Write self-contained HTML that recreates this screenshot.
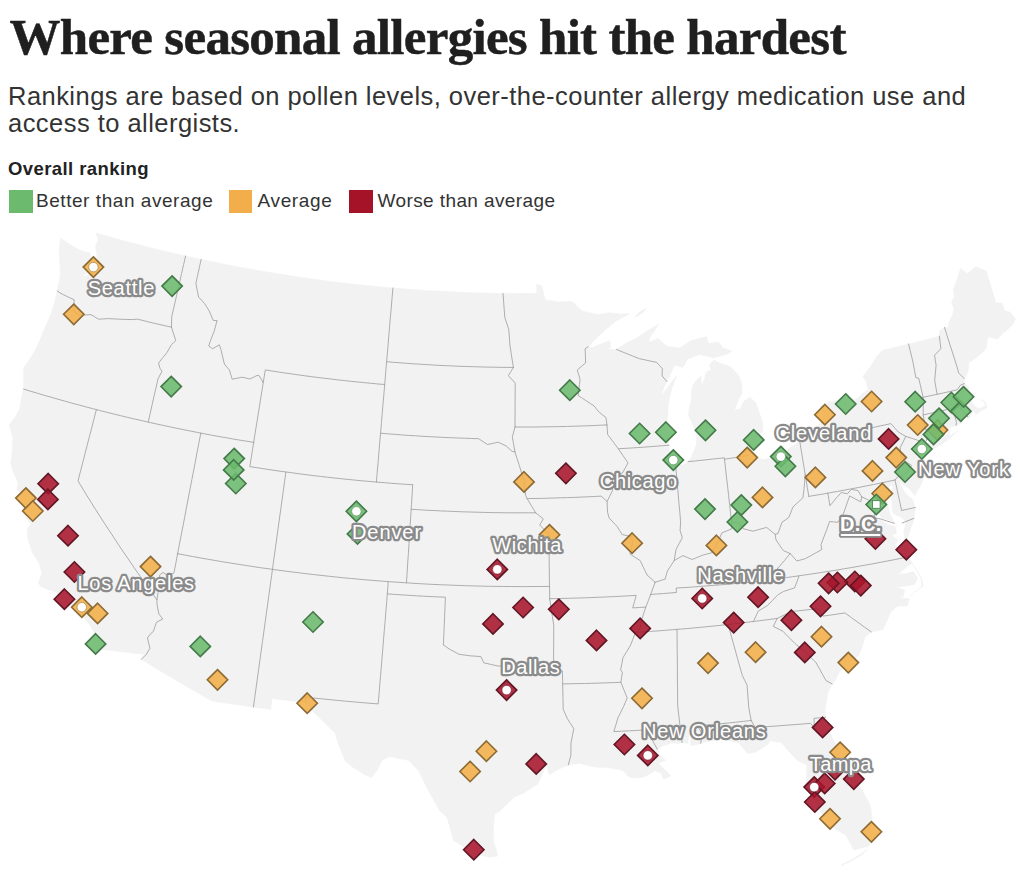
<!DOCTYPE html>
<html><head><meta charset="utf-8">
<style>
html,body{margin:0;padding:0;background:#fff;}
body{width:1024px;height:876px;position:relative;overflow:hidden;font-family:"Liberation Sans",sans-serif;}
#title{position:absolute;left:9.5px;top:9.5px;-webkit-text-stroke:0.5px #1f1f1f;margin:0;font-family:"Liberation Serif",serif;font-weight:bold;font-size:51px;line-height:54px;color:#1f1f1f;white-space:nowrap;letter-spacing:-0.71px;}
#sub{position:absolute;left:8px;top:83px;margin:0;font-size:25.5px;line-height:27.3px;letter-spacing:0.46px;color:#333;white-space:nowrap;}
#lt{position:absolute;left:8px;top:159px;letter-spacing:0.42px;font-size:18.5px;font-weight:bold;color:#222;white-space:nowrap;line-height:20px;}
.sw{position:absolute;top:189.5px;width:23.5px;height:23px;}
.ll{position:absolute;top:189px;height:23px;line-height:23px;font-size:19px;letter-spacing:0.55px;color:#333;white-space:nowrap;}
#map{position:absolute;left:0;top:0;width:1024px;height:876px;}
</style></head><body>
<h1 id="title">Where seasonal allergies hit the hardest</h1>
<p id="sub"><span id="s1">Rankings are based on pollen levels, over-the-counter allergy medication use and</span><br><span id="s2">access to allergists.</span></p>
<div id="lt">Overall ranking</div>
<div class="sw" style="left:9px;background:#6cba6d"></div><div class="ll" id="l1" style="left:36px">Better than average</div>
<div class="sw" style="left:228.5px;background:#f1ae4b"></div><div class="ll" id="l2" style="left:257.5px;letter-spacing:0.65px">Average</div>
<div class="sw" style="left:349px;background:#a51328"></div><div class="ll" id="l3" style="left:377.5px;letter-spacing:0.4px">Worse than average</div>
<svg id="map" width="1024" height="876" viewBox="0 0 1024 876">
<path d="M60.9,238.1L64.6,240.8L68.3,243.6L72.6,246.2L77.0,248.8L80.8,250.3L84.6,251.8L89.8,252.8L91.0,259.2L90.6,266.6L87.0,273.1L80.9,276.4L87.1,275.7L91.7,271.9L94.0,263.8L97.2,258.4L96.5,251.9L95.5,246.6L98.2,239.9L95.9,233.0L102.0,234.7L108.1,236.5L114.3,238.2L120.4,239.9L126.6,241.5L132.7,243.1L138.9,244.8L145.1,246.3L151.3,247.9L157.5,249.4L163.7,250.9L169.9,252.4L176.1,253.9L182.3,255.3L188.5,256.7L194.8,258.1L201.0,259.4L207.2,260.7L213.5,262.0L219.7,263.3L226.0,264.5L232.2,265.8L238.5,267.0L244.8,268.1L251.1,269.3L257.3,270.4L263.6,271.5L269.9,272.5L276.2,273.6L282.5,274.6L288.8,275.6L295.1,276.5L301.4,277.4L307.7,278.4L314.1,279.2L320.4,280.1L326.7,280.9L333.0,281.7L339.4,282.5L345.7,283.2L352.0,284.0L358.4,284.7L364.7,285.3L371.1,286.0L377.4,286.6L383.8,287.2L390.1,287.7L396.5,288.3L402.8,288.8L409.2,289.3L415.6,289.7L421.9,290.2L428.3,290.6L434.6,291.0L441.0,291.3L447.4,291.6L453.8,291.9L460.1,292.2L466.5,292.5L472.9,292.7L479.3,292.9L485.6,293.0L492.0,293.2L498.4,293.3L504.8,293.4L511.1,293.4L517.5,293.5L523.9,293.5L530.3,293.5L536.7,293.4L536.6,284.3L541.9,285.7L543.4,292.6L545.0,299.6L549.3,300.4L553.7,301.2L558.0,302.0L563.2,301.7L568.3,301.5L572.5,301.8L577.4,306.5L582.3,311.1L587.6,312.3L592.8,313.4L598.0,314.6L603.5,313.7L609.0,312.8L615.3,313.4L621.7,314.0L625.7,313.8L629.7,313.7L628.0,314.8L622.1,317.8L616.2,320.8L611.0,325.1L605.7,329.4L600.4,334.4L595.1,339.4L591.6,342.9L588.2,346.5L591.6,347.6L597.4,345.4L603.1,343.1L606.4,341.9L609.7,340.6L610.9,347.1L608.0,349.2L612.2,349.3L616.5,349.4L621.5,346.1L626.5,342.8L631.4,340.5L636.3,338.2L641.0,334.9L645.8,331.7L650.1,329.3L654.3,326.9L658.5,324.5L655.6,328.9L652.6,333.4L649.6,337.9L648.8,342.4L653.4,340.4L658.1,338.4L662.6,342.5L667.2,346.6L673.6,347.3L680.0,347.9L685.3,344.3L690.5,340.7L695.9,339.4L701.3,338.0L706.6,336.7L708.3,343.6L713.2,342.8L718.2,341.9L723.2,348.1L727.7,349.7L732.1,351.2L727.4,354.0L722.9,355.3L718.4,356.6L713.9,357.9L709.3,356.7L704.7,355.5L700.1,354.3L694.0,356.6L687.9,358.8L685.3,363.1L682.8,367.4L678.7,366.2L674.7,365.0L672.6,369.5L670.5,373.9L666.9,381.6L664.7,385.4L662.9,390.5L661.2,395.5L665.9,390.2L668.6,386.3L671.3,382.4L674.0,379.1L676.7,375.8L674.3,382.1L671.8,388.5L669.7,397.3L668.2,406.0L667.7,414.6L666.9,423.4L666.1,432.2L667.4,437.7L668.8,443.2L669.6,452.5L673.5,460.0L679.3,465.9L683.0,464.4L686.8,462.8L691.3,457.4L693.3,452.3L696.4,445.1L696.7,435.9L694.9,430.4L693.1,425.0L690.8,420.0L688.5,415.1L689.4,407.6L691.5,398.8L691.5,390.7L693.6,383.9L697.2,379.8L700.8,375.8L701.2,380.9L701.6,386.0L704.6,379.0L706.3,372.2L711.3,369.7L709.1,365.0L714.0,360.1L718.7,362.7L724.6,364.8L730.4,366.8L734.3,370.8L738.2,374.7L741.6,383.1L741.8,388.0L742.0,392.9L738.5,399.5L736.5,404.7L734.5,409.9L739.8,409.2L741.9,405.2L744.0,401.2L749.7,397.5L755.6,402.1L757.8,408.6L760.1,415.0L762.5,422.1L762.5,427.0L762.5,432.0L756.8,436.5L753.1,442.0L752.5,448.2L748.6,455.7L752.8,456.6L757.0,457.5L762.8,459.7L769.0,458.3L775.2,456.9L780.6,456.6L784.2,452.9L787.7,449.3L791.5,446.8L795.2,444.4L801.1,440.3L806.9,436.2L812.1,432.4L815.3,429.2L818.4,426.0L821.5,420.5L824.6,415.0L821.4,410.6L820.3,406.3L824.8,404.1L829.3,401.9L833.7,401.1L838.0,400.3L841.7,400.9L845.4,401.6L850.6,400.4L855.8,399.3L859.6,396.1L863.4,392.9L868.2,389.7L866.5,381.8L862.7,376.6L866.6,371.7L870.4,366.7L873.7,361.4L876.9,356.1L879.8,353.2L882.7,350.3L885.7,349.6L891.4,348.2L897.1,346.8L902.8,345.4L908.6,344.0L914.7,342.5L920.9,340.9L927.1,339.4L933.2,337.8L939.4,336.2L939.7,330.8L944.5,327.5L948.6,327.6L948.5,323.9L950.7,318.9L952.8,313.9L954.0,308.5L951.6,302.9L954.2,296.6L953.3,289.8L955.8,282.7L958.2,275.6L960.6,268.6L964.4,271.5L967.6,273.6L971.5,270.2L975.4,266.7L980.7,268.8L986.1,270.8L988.8,279.6L991.5,288.5L994.2,297.3L995.6,302.7L1002.4,303.2L1004.3,310.7L1010.2,312.2L1015.6,318.9L1013.0,324.1L1010.3,326.9L1007.5,329.6L1004.6,332.1L1001.7,334.5L997.6,339.0L992.8,337.9L987.9,336.8L986.7,344.8L986.0,348.8L983.2,351.5L980.3,354.3L975.9,358.1L972.5,360.3L969.0,362.5L968.4,370.3L966.3,376.0L964.3,378.6L964.4,383.6L969.5,387.8L965.4,392.7L964.2,397.4L970.4,399.0L973.2,404.6L976.9,407.9L980.8,408.3L985.6,405.5L983.3,400.5L980.2,399.6L985.1,401.8L987.2,407.8L981.4,410.5L976.0,414.7L973.5,410.3L970.0,416.9L967.9,417.4L962.5,413.3L962.5,420.2L962.5,422.4L956.1,425.4L952.0,426.7L947.4,428.3L942.8,429.9L938.2,431.4L933.5,435.1L930.0,437.9L926.4,440.6L925.0,444.8L929.5,441.9L933.2,440.5L936.9,439.1L941.0,437.8L945.1,436.5L947.8,433.6L950.5,430.6L948.8,436.4L953.2,433.7L957.6,431.1L952.7,435.5L947.8,439.9L943.8,442.7L939.8,445.4L934.8,447.9L929.7,450.4L926.2,451.4L922.6,452.4L921.1,449.9L919.4,454.9L923.2,454.8L924.4,463.8L925.4,472.4L923.6,477.7L921.8,483.1L918.4,489.3L914.9,495.5L911.4,491.6L908.0,487.7L904.0,484.8L900.0,481.9L900.8,485.5L905.4,493.3L909.0,496.6L912.6,499.8L915.3,507.5L914.6,513.3L914.0,519.1L911.9,525.3L909.8,531.4L907.7,537.2L905.5,543.1L904.7,537.3L904.0,531.4L904.9,526.8L905.9,522.2L900.9,517.0L896.9,515.3L893.0,513.6L892.4,508.7L891.9,503.8L891.3,498.9L890.8,494.0L893.0,487.2L890.5,484.5L888.4,489.1L886.3,493.7L884.1,494.1L886.8,500.6L888.0,506.2L889.2,511.9L891.4,516.7L893.7,521.5L887.9,519.7L881.8,518.4L877.6,511.8L875.9,517.6L882.4,521.3L889.0,525.0L895.6,526.9L896.5,533.0L892.1,535.2L898.0,540.2L895.0,544.6L899.5,547.4L899.8,548.6L905.5,547.9L908.1,556.9L911.9,563.6L908.3,565.6L905.0,568.6L901.6,571.6L897.1,573.8L901.1,573.8L905.1,573.9L909.3,572.7L913.6,571.5L917.7,578.7L914.4,584.4L909.5,585.2L904.6,586.0L900.7,586.4L896.8,586.9L900.6,588.6L904.5,590.3L903.3,596.3L896.8,596.9L901.0,597.7L905.2,598.4L909.3,598.6L907.2,606.0L902.4,606.0L897.6,606.0L894.2,608.9L890.7,611.9L888.2,617.8L885.6,623.7L883.0,629.6L877.1,630.8L871.2,631.9L865.3,636.7L863.2,643.3L861.1,649.9L859.0,655.3L854.0,659.2L849.0,663.2L844.1,667.8L839.2,672.3L835.3,680.4L832.1,683.9L830.0,688.3L827.9,692.7L827.1,697.8L826.4,702.8L825.1,708.0L825.5,717.3L826.8,722.3L828.1,727.3L829.8,731.9L831.6,736.6L836.1,744.5L840.6,752.4L844.7,757.9L848.8,763.4L853.0,768.9L853.3,777.5L856.8,782.4L860.4,787.4L863.5,793.0L866.7,798.6L869.2,803.1L871.0,808.9L871.6,816.3L872.1,823.7L872.6,831.1L871.5,836.0L870.4,840.8L869.0,845.9L861.4,848.0L853.8,850.1L849.8,842.5L845.8,835.0L840.3,831.8L834.8,828.6L831.0,825.3L827.2,821.9L822.8,815.2L820.1,811.4L817.3,807.5L813.9,802.4L809.2,796.4L813.3,794.6L814.4,787.1L809.2,789.1L806.2,787.8L806.3,782.5L806.5,777.2L806.7,771.0L806.9,764.9L802.3,762.7L797.7,760.5L793.3,756.0L788.9,751.4L785.1,747.0L781.4,742.6L776.0,741.7L770.5,740.7L767.8,744.3L761.4,748.4L754.9,752.4L747.6,753.5L743.3,748.4L739.1,743.2L733.3,741.8L727.5,740.3L721.7,738.9L714.5,740.2L707.2,741.5L700.7,743.3L697.0,744.6L690.7,745.4L690.8,740.3L690.9,735.1L689.2,734.5L687.8,743.4L682.1,742.5L679.0,743.4L671.6,743.0L667.0,744.5L662.3,745.9L657.3,749.4L659.6,752.2L655.4,752.5L662.0,756.9L665.5,760.3L658.2,763.3L661.7,766.7L665.1,770.1L670.8,775.8L663.6,779.2L661.0,772.8L654.5,770.8L650.4,773.5L644.2,776.8L637.9,777.9L633.6,777.6L629.3,777.2L625.9,773.7L622.6,770.2L617.2,769.3L611.9,768.3L607.6,767.3L601.2,767.5L595.9,766.9L590.6,766.2L585.3,764.8L579.9,763.4L574.1,764.1L568.3,764.9L562.6,767.4L556.8,770.0L553.1,772.5L549.5,775.0L547.8,770.1L546.2,765.3L543.1,772.6L540.5,778.3L537.8,784.1L530.4,788.7L522.9,793.4L518.6,795.2L514.3,797.0L509.6,801.6L504.9,806.1L500.2,810.7L494.8,813.8L494.1,819.8L493.5,825.9L493.4,833.1L493.3,840.4L495.2,846.8L497.1,853.2L497.5,856.1L489.8,857.2L482.1,855.3L474.4,853.3L467.8,849.3L461.4,845.3L453.8,840.7L451.5,832.9L449.2,825.2L447.0,817.4L443.3,814.0L439.7,810.6L435.3,802.9L431.0,795.2L426.7,787.4L422.8,779.3L418.9,771.2L413.9,765.8L408.9,760.4L402.7,759.2L396.4,757.9L390.1,756.6L386.1,758.3L382.1,760.0L379.8,764.9L377.5,769.9L374.6,773.6L371.7,777.3L365.4,775.1L359.3,771.3L353.2,767.5L349.2,764.3L345.3,761.2L342.7,754.8L340.1,748.5L337.6,740.9L335.2,733.3L329.4,727.5L323.7,721.7L318.0,716.3L312.4,710.9L309.4,706.8L306.4,702.6L299.5,701.8L292.7,701.0L285.8,700.2L278.9,699.4L272.0,698.5L271.3,703.9L270.6,709.4L264.9,708.6L259.1,707.9L253.4,707.1L246.5,706.1L239.6,705.1L232.7,704.1L225.8,703.1L218.9,702.0L212.0,700.9L204.8,696.9L197.6,692.8L190.5,688.7L183.4,684.6L176.3,680.5L169.3,676.3L162.2,672.1L155.2,667.9L148.3,663.6L141.3,659.4L144.2,654.2L137.2,653.5L130.3,652.7L123.3,652.0L116.3,651.1L109.3,650.3L102.4,649.5L95.4,648.6L93.7,643.9L94.4,636.5L93.5,631.3L89.0,623.7L84.9,619.1L80.8,614.5L76.9,613.8L76.4,607.2L70.6,605.7L67.1,603.0L63.7,600.2L59.6,596.1L55.5,591.9L48.2,589.4L41.0,586.8L38.3,582.8L40.1,578.0L41.9,573.1L40.5,568.0L39.1,563.0L36.0,558.3L32.9,553.6L30.1,545.5L27.3,537.3L27.7,528.5L30.9,524.3L27.6,519.6L25.0,515.6L22.4,511.7L23.4,504.9L24.3,498.2L25.7,496.8L27.8,501.5L30.0,506.2L30.5,497.4L25.0,495.8L20.9,492.7L16.9,489.6L18.0,482.3L15.3,476.4L12.7,470.5L10.8,463.5L11.5,457.9L12.2,452.4L12.6,444.8L12.9,437.2L11.0,430.9L9.1,424.7L12.1,421.0L15.1,417.3L17.5,412.9L19.8,408.4L20.9,401.7L22.0,395.0L23.6,389.1L23.7,381.9L23.7,374.8L23.8,367.6L28.0,361.7L32.1,355.8L35.5,349.2L38.9,342.6L41.8,335.4L44.7,328.3L47.6,321.9L50.4,315.5L53.2,307.4L55.3,299.2L57.3,290.9L58.3,286.1L59.3,281.4L60.4,274.8L60.2,270.0L60.0,265.1L59.5,257.3L59.0,249.6L60.0,243.8L60.9,238.1Z" fill="#f2f2f2" stroke="#f2f2f2" stroke-width="0.6" stroke-linejoin="round"/>
<path d="M634.4,317.0L637.3,314.1L640.1,311.2L643.4,309.5L646.7,307.8L644.2,311.7L641.1,314.1L638.0,316.5Z" fill="#f2f2f2"/><path d="M870.1,846.2L866.3,850.5L862.5,854.8L856.8,858.1L851.1,861.4L845.8,863.8L840.5,866.2L841.3,864.4L847.1,861.6L852.9,858.7L858.6,855.1L864.2,851.6Z" fill="#f2f2f2"/><path d="M908.7,558.0L911.9,562.4L915.1,566.7L918.3,572.3L921.6,577.9L923.8,586.2L920.2,588.2L915.0,592.3L910.0,597.4L907.5,604.7L907.7,603.4L910.7,595.8L915.7,590.7L921.7,585.9L920.4,578.1L917.2,572.5L914.0,566.9L910.9,562.6L907.7,558.2Z" fill="#f2f2f2"/>
<path d="M57.3,290.9L60.2,293.0L63.3,294.6L66.3,296.1L70.2,297.9L74.1,299.7L74.0,306.0L74.1,311.8L77.1,313.6L80.2,315.3L85.6,315.0L91.0,314.6L94.8,316.9L98.6,319.2L103.5,318.9L108.4,318.6L114.1,318.9L119.7,319.2L125.8,319.4L131.9,319.6L137.2,319.1L142.9,320.5L148.6,321.9L154.3,323.3L160.0,324.6L165.8,325.9L171.5,327.2M185.6,256.0L183.6,264.7L181.6,273.3L179.7,282.0L177.7,290.7L175.7,299.4L173.7,308.1L171.7,316.8L171.6,322.0L171.5,327.2M171.5,327.2L173.6,333.9L175.8,340.6L171.4,344.7L167.1,352.4L162.8,357.7L158.5,363.0L160.0,368.3L162.0,371.3L157.9,379.1L156.0,387.7L154.0,396.3L152.1,404.9L150.2,413.5L148.2,422.1M23.6,389.1L30.4,391.2L37.3,393.2L44.2,395.3L51.1,397.2L57.9,399.2L64.8,401.1L71.7,403.1L78.7,404.9L85.6,406.8L92.5,408.6L99.4,410.4L106.4,412.2L113.3,413.9L120.3,415.6L127.3,417.3L134.2,418.9L141.2,420.5L148.2,422.1L155.2,423.7L162.2,425.2L169.2,426.7L176.2,428.2L183.2,429.6L190.2,431.0L197.3,432.4L204.3,433.8L211.3,435.1L218.4,436.4L225.4,437.6L232.5,438.9L239.6,440.1L246.6,441.2L253.7,442.4M96.4,409.6L94.1,418.5L91.8,427.4L89.5,436.3L87.2,445.2L84.9,454.2L82.6,463.1L80.3,472.0L78.0,480.9L82.3,488.0L86.6,495.1L91.0,502.1L95.4,509.2L99.9,516.2L104.4,523.2L109.0,530.2L113.6,537.2L118.2,544.2L122.9,551.2L127.7,558.2L132.4,565.1L137.2,572.1L142.1,579.0L147.0,585.9L151.9,592.8L156.9,599.7M156.9,599.7L157.1,604.8L158.8,613.9L162.8,619.1L156.5,622.2L154.9,626.8L153.3,631.5L150.8,633.5L147.5,637.9L148.7,643.1L149.9,648.4L146.3,654.4L141.3,659.4M156.9,599.7L158.1,592.5L159.4,585.2L159.5,580.2L159.6,575.2L162.9,572.4L168.2,575.7L173.9,573.0L175.8,563.4L177.6,553.7M177.6,553.7L179.4,544.4L181.2,535.1L183.0,525.9L184.8,516.6L186.5,507.3L188.3,498.0L190.1,488.7L191.9,479.4L193.7,470.2L195.5,460.9L197.2,451.6L199.0,442.3L200.8,433.1M177.6,553.7L185.1,555.1L192.6,556.5L200.1,557.9L207.7,559.2L215.2,560.5L222.7,561.8L230.2,563.0L237.8,564.2L245.3,565.4L252.8,566.5L260.4,567.7L268.0,568.7L275.5,569.8L283.1,570.8L290.6,571.8L298.2,572.7L305.8,573.7L313.4,574.5L321.0,575.4L328.5,576.2L336.1,577.0L343.7,577.8L351.3,578.5L358.9,579.2L366.5,579.9L374.1,580.5L381.7,581.1L389.3,581.7L397.0,582.2L404.6,582.7L412.2,583.2L419.8,583.7L427.4,584.1L435.0,584.5L442.7,584.8L450.3,585.1L457.9,585.4L465.5,585.7L473.2,585.9L480.8,586.1L488.4,586.3L496.1,586.4L503.7,586.5L511.3,586.5L519.0,586.6L526.6,586.6L534.2,586.5L541.8,586.5L549.5,586.4M253.7,442.4L252.4,450.5L251.1,458.5L249.8,466.6L256.9,467.7L263.9,468.8L271.0,469.9L278.0,470.9L285.1,471.9L292.2,472.8L299.2,473.8L306.3,474.7L313.4,475.6L320.4,476.4L327.5,477.2L334.6,478.0L341.7,478.8L348.8,479.5L355.9,480.2L363.0,480.9L370.1,481.5L377.2,482.1L384.3,482.7L391.4,483.3L398.5,483.8L405.6,484.3L412.7,484.8M285.9,472.0L284.6,481.4L283.3,490.8L282.0,500.2L280.7,509.6L279.4,519.0L278.1,528.5L276.8,537.9L275.5,547.3L274.2,556.7L272.9,566.1L271.6,575.6L270.3,585.0L269.0,594.4L267.7,603.8L266.4,613.2L265.1,622.6L263.8,632.0L262.5,641.4L261.2,650.8L259.9,660.2L258.6,669.6L257.3,679.0L256.0,688.4L254.7,697.7L253.4,707.1M201.1,259.4L199.4,267.4L197.6,275.4L195.9,283.4L197.2,290.3L198.6,297.1L201.5,300.2L204.4,303.3L206.7,306.8L208.9,310.4L211.1,315.4L213.2,320.4L217.1,320.6L215.6,325.9L214.2,331.2L212.4,335.8L210.6,340.4L208.7,346.0L212.5,348.7L215.9,346.8L219.3,344.8L221.0,349.8L222.7,357.0L224.4,364.1L226.9,367.1L229.4,370.0L230.8,374.6L232.2,379.2L237.2,378.2L242.2,377.2L246.0,378.1L249.8,379.0L253.4,377.3L257.0,375.5L259.1,375.6L263.2,382.7M253.7,442.4L255.1,433.3L256.6,424.2L258.0,415.2L259.5,406.1L260.9,397.1L262.4,388.0L263.8,379.0L265.3,369.9L271.9,371.0L278.5,372.0L285.1,373.0L291.7,373.9L298.3,374.9L304.9,375.8L311.6,376.7L318.2,377.5L324.8,378.3L331.5,379.1L338.1,379.9L344.8,380.6L351.4,381.4L358.1,382.0L364.7,382.7L371.4,383.3L378.0,384.0L384.7,384.5M392.9,288.0L392.1,297.6L391.3,307.2L390.4,316.8L389.6,326.4L388.8,336.1L388.0,345.8L387.2,355.4L386.3,365.1L385.5,374.8L384.7,384.5L383.9,394.2L383.0,404.0L382.2,413.7L381.4,423.5L380.6,433.2L379.7,443.0L378.9,452.7L378.1,462.5L377.2,472.3L376.4,482.1M386.6,361.7L393.3,362.3L399.9,362.8L406.6,363.3L413.3,363.8L419.9,364.2L426.6,364.6L433.3,365.0L440.0,365.4L446.6,365.7L453.3,366.0L460.0,366.3L466.7,366.5L473.3,366.7L480.0,366.9L486.7,367.1L493.4,367.2L500.1,367.3L506.7,367.4L513.4,367.5M380.6,433.2L387.5,433.8L394.5,434.3L401.5,434.9L408.5,435.4L415.6,435.8L422.6,436.3L429.6,436.7L436.6,437.0L443.6,437.4L450.6,437.7L457.6,438.0L464.6,438.2L471.6,438.5L478.7,438.7L483.0,441.6L487.4,444.5L492.7,443.4L498.1,442.2L502.0,444.0L506.0,445.8L509.1,448.6L512.2,451.5L514.9,451.7M412.7,484.8L412.1,494.6L411.5,504.4L410.9,514.2L410.2,524.0L409.6,533.8L409.0,543.6L408.4,553.4L407.7,563.2L407.1,573.1L406.5,582.9M411.2,509.3L418.5,509.7L425.8,510.2L433.1,510.5L440.4,510.9L447.8,511.2L455.1,511.5L462.4,511.8L469.7,512.0L477.1,512.2L484.4,512.4L491.7,512.6L499.0,512.7L506.4,512.8L513.7,512.8L521.0,512.8L528.3,512.8L535.7,512.8M388.2,581.6L387.8,587.7L387.3,593.9L394.6,594.4L401.8,594.9L409.1,595.3L416.4,595.8L423.6,596.2L430.9,596.6L438.1,596.9L445.4,597.2L445.0,606.8L444.6,616.3L444.2,625.8L443.8,635.3L443.4,644.8M443.4,644.8L449.2,649.0L454.1,651.6L459.0,654.3L465.0,655.1L470.9,655.9L475.9,656.2L480.9,656.6L483.8,662.8L491.3,664.5L498.8,666.2L504.8,665.1L510.9,663.9L517.9,663.7L524.9,663.4L531.9,662.4L538.9,661.4L546.2,665.1L553.5,668.8M387.3,593.9L386.6,603.1L385.8,612.2L385.1,621.4L384.3,630.6L383.5,639.8L382.8,648.9L382.0,658.1L381.3,667.3L380.5,676.4L379.7,685.6L379.0,694.7L378.2,703.9L370.1,703.3L361.9,702.6L353.8,701.9L345.7,701.2L337.6,700.4L329.5,699.6L321.4,698.8L313.3,698.0L305.2,697.1L306.4,702.6M503.0,293.4L503.6,301.4L504.2,309.4L504.8,317.5L506.8,323.5L508.8,329.6L509.4,337.2L509.9,344.9L511.0,352.4L512.2,359.9L513.4,367.5M513.4,367.5L510.9,371.6L508.4,375.7L511.8,379.4L515.2,383.1L515.2,391.8L515.1,400.6L515.1,409.4L515.0,418.2L515.0,427.0M515.0,427.0L521.6,427.0L528.1,427.0L534.7,427.0L541.3,426.9L547.8,426.8L554.4,426.7L561.0,426.6L567.5,426.4L574.1,426.2L580.6,426.0L587.2,425.8L593.8,425.5L600.3,425.2L606.9,424.9M515.0,427.0L513.7,431.9L512.3,436.8L513.6,444.2L514.9,451.7M514.9,451.7L516.9,458.2L519.0,464.6L521.1,471.1L522.6,476.5L524.2,481.9L524.9,488.8L525.7,495.6L527.1,498.6L531.4,505.7L535.7,512.8M535.7,512.8L539.5,515.8L543.3,518.9L539.7,525.0L544.3,529.8L548.9,534.5L549.0,543.7L549.1,552.8L549.2,562.0L549.3,571.2L549.4,580.3L549.6,589.5L549.7,598.7M527.1,498.6L533.9,498.5L540.6,498.4L547.3,498.2L554.0,498.0L560.8,497.8L567.5,497.6L574.2,497.4L581.0,497.1L587.7,496.8L594.4,496.5L601.1,496.1L607.1,501.5M549.7,598.7L556.9,598.6L564.1,598.4L571.3,598.2L578.5,598.0L585.8,597.8L593.0,597.5L600.2,597.2L607.4,596.9L614.6,596.6L621.8,596.2L629.0,595.8L636.2,595.4L634.5,601.6L632.7,607.9L639.2,607.5L645.8,607.1M549.7,598.7L551.0,607.7L552.4,616.6L553.8,625.6L553.7,634.3L553.7,642.9L553.6,651.6L553.6,660.2L553.5,668.8L557.9,669.9L562.4,670.9L562.6,680.4L562.8,690.0L563.0,699.5L563.2,709.1L565.2,713.8L567.3,718.5L570.5,723.6L573.8,728.6L572.4,735.8L571.0,742.9L570.9,749.0L570.9,755.1L569.6,760.0L568.3,764.9M562.7,683.9L569.9,683.8L577.2,683.6L584.5,683.5L591.8,683.3L599.0,683.1L606.3,682.8L613.6,682.6L620.9,682.3M588.2,346.5L585.1,348.8L585.4,355.8L585.6,362.9L581.5,366.4L577.3,370.0L578.7,374.8L580.1,379.6L579.5,384.5L578.8,389.4L578.1,395.6L582.5,398.4L587.0,401.3L590.5,403.6L594.1,405.9L598.7,411.8L602.4,414.7L606.0,417.6L606.9,424.9M606.9,424.9L607.3,429.8L607.7,434.7L608.7,435.8L613.5,442.3L618.3,448.8L623.2,455.9L628.1,463.0L627.3,464.2L624.8,468.7L622.4,473.1L617.5,474.6L612.6,476.1L612.5,483.5L612.4,490.9L609.7,496.2L607.1,501.5L607.3,507.0L607.6,512.5L609.2,518.1L613.1,522.2L617.0,526.3L619.6,530.5L622.2,534.6L626.9,535.6L631.7,536.5L632.5,543.2L631.2,548.5L629.9,553.9L635.0,557.3L640.2,560.6L643.6,567.8L647.1,575.0L651.1,578.6L655.1,582.3M655.1,582.3L652.9,588.4L650.7,594.4L648.3,600.8L645.8,607.1L643.7,613.4L641.7,619.7L639.9,628.9L635.5,632.3L633.1,638.6L630.7,644.9L626.9,651.3L623.0,657.6L621.8,663.8L620.6,670.0L622.4,672.4L621.6,677.3L620.9,682.3L624.0,690.1L627.2,697.9L625.4,702.3L623.5,706.7L620.7,712.3L617.9,717.9L615.9,724.8L613.8,731.6L621.7,731.2L629.6,730.8L637.5,730.4L645.4,729.9L653.2,729.4L651.3,738.1L654.3,743.7L657.3,749.4M618.4,448.8L624.8,448.4L631.1,448.0L637.4,447.6L643.7,447.2L650.0,446.7L656.3,446.2L662.7,445.7L669.0,445.2M616.5,349.4L622.2,351.8L627.9,354.1L633.7,356.4L639.4,358.7L645.2,359.9L650.9,361.2L656.7,362.4L659.5,365.5L662.3,368.5L662.1,375.9L666.9,381.6M675.5,464.3L676.4,473.9L677.2,483.4L678.1,493.0L678.9,502.6L679.8,512.2L680.6,521.8L680.1,530.5L682.3,537.7L679.2,543.5L676.1,549.3L675.1,554.9L674.2,560.6M688.1,461.6L694.2,461.1L700.2,460.4L706.2,459.8L712.3,459.1L718.3,458.5L724.3,457.8L724.5,459.2L730.5,458.3L736.5,457.4L742.5,456.4L748.6,455.4M724.5,459.2L725.5,468.3L726.5,477.3L727.6,486.4L728.6,495.5L729.6,504.5L730.6,513.6L731.6,522.7M805.2,474.1L804.7,481.3L804.1,488.4L802.9,497.8L797.9,502.4L793.0,506.9L791.6,510.3L788.9,517.4L785.5,519.8L782.0,522.2L780.0,527.8L778.0,533.5L775.2,534.3L770.9,530.9L766.6,527.4L759.8,529.3L752.9,531.2L748.0,529.9L743.1,528.7L737.6,522.0L731.6,522.7L731.8,528.8L726.8,530.9L721.9,532.9L719.2,538.9L716.5,544.9L714.1,548.9L711.7,552.8L707.5,553.9L703.3,554.9L697.8,557.2L692.2,559.5L687.6,557.6L682.9,555.6L678.5,558.1L674.2,560.6L670.8,565.8L667.4,571.0L665.1,579.1L660.1,580.7L655.1,582.3M650.4,594.5L656.9,594.0L663.4,593.5L669.9,593.0L676.4,592.5L676.1,588.0L683.8,587.6L691.5,587.1L699.2,586.5L706.9,585.9L714.6,585.3L722.3,584.7L730.0,584.0L737.7,583.3L745.4,582.5L753.1,581.8L760.7,581.0M760.7,581.0L765.4,577.9L770.1,574.8L774.7,571.7L779.7,566.0L784.7,560.3L787.4,556.9L790.1,553.5M790.1,553.5L783.3,550.6L779.7,545.3L776.0,539.9L775.2,534.3M790.1,553.5L793.5,557.3L796.9,561.0L801.1,559.8L805.3,558.7L810.8,555.7L816.3,552.6L821.8,549.5L821.0,544.7L823.9,537.0L826.8,529.3L829.6,521.5L833.7,521.9L837.8,522.3L840.5,518.2L843.2,514.1L845.4,508.1L847.5,502.0L849.7,495.9L855.2,498.9L860.7,501.8L861.8,496.9M861.8,496.9L858.1,490.6L851.3,489.4L847.4,493.8L841.3,492.5L836.4,497.9L833.2,501.8L829.9,505.8L828.9,499.5L827.8,493.1M808.8,496.4L816.0,495.2L823.2,494.0L830.4,492.7L837.6,491.4L844.8,490.1L852.0,488.7L859.2,487.4L866.4,485.9L873.5,484.5L880.7,483.0L887.9,481.5L895.0,480.0M808.8,496.4L807.3,487.3L805.8,478.1L804.3,469.0L802.8,459.9L801.3,450.8L799.8,441.6M895.0,480.0L897.9,476.6L901.3,476.6M895.0,480.0L896.7,487.6L898.3,495.3L900.0,502.9L901.6,510.5L908.4,509.0L915.3,507.5M901.3,476.6L906.0,473.1L908.8,469.3L911.5,465.5L904.8,460.8L900.5,454.2L900.3,447.4L903.1,441.9L905.8,436.4L902.1,434.2L898.3,432.0L894.6,427.8L890.9,423.6L884.5,425.0L878.0,426.4L871.6,427.8L865.1,429.1L858.6,430.4L852.2,431.7L845.7,433.0L839.2,434.2L832.7,435.4L826.2,436.6L819.7,437.8L813.2,438.9L812.1,432.4M905.8,436.4L911.2,438.1L916.6,439.9L922.0,441.7M926.4,440.6L928.3,435.1L926.5,433.0L924.8,424.0L923.2,414.9L923.2,406.1L923.1,397.3L921.7,390.9L920.2,384.5L918.7,378.2L915.8,377.6L914.5,370.4L913.2,363.2L911.7,356.8L910.1,350.4L908.6,344.0M923.2,414.9L929.1,413.6L935.1,412.3L941.0,411.0L946.9,409.6L952.8,408.2L956.5,407.3L960.1,406.3L960.9,409.2L965.4,413.5L967.9,417.4M952.8,408.2L954.7,415.3L956.5,422.5L956.1,425.4M923.1,397.3L930.0,395.8L936.8,394.4L943.6,392.9L950.4,391.4L957.2,389.8L960.5,385.1L964.4,383.6M937.1,394.3L935.9,387.4L934.7,380.5L935.4,372.8L936.1,365.0L935.3,360.2L934.5,355.3L937.7,352.0L940.9,348.6L940.1,342.4L939.4,336.2M964.3,378.6L958.7,373.0L957.1,367.1L954.9,360.1L952.7,353.1L950.4,346.1L948.4,339.9L946.5,333.7L944.5,327.5M861.8,496.9L866.4,499.0L871.4,501.7L876.3,504.5L875.1,511.0L873.9,517.5L880.0,518.8L887.2,521.1L894.5,523.3M902.2,523.0L908.0,520.7L913.8,518.4M909.4,556.6L902.1,558.1L894.7,559.6L887.4,561.0L880.1,562.4L872.8,563.8L865.4,565.1L858.1,566.4L850.7,567.7L843.4,568.9L836.0,570.2L828.6,571.3L821.3,572.5L813.9,573.6L806.5,574.7L799.1,575.8L792.7,576.7L786.3,577.6L779.9,578.5L773.5,579.3L767.1,580.2L760.7,581.0M799.1,575.8L796.9,581.9L794.6,587.9L789.0,589.7L783.4,591.5L777.9,594.8L772.7,600.2L767.5,605.6L762.9,608.3L758.3,611.0L755.8,616.4L753.3,621.8M871.2,631.9L864.6,627.2L858.0,622.4L851.5,617.7L845.0,612.9L837.7,614.0L830.3,615.1L822.9,616.1L819.2,609.7L816.9,608.8L810.5,609.5L804.0,610.2L797.6,610.9L791.2,611.5L784.2,615.0L777.2,618.4M777.2,618.4L769.8,619.4L762.3,620.4L754.9,621.3L747.5,622.2L740.0,623.1L732.6,624.0L725.1,624.8L717.7,625.6L710.2,626.4L702.8,627.1L695.3,627.8L687.8,628.5L680.4,629.1L672.9,629.7L665.4,630.3L658.0,630.9L650.5,631.4L643.0,631.9L635.5,632.3M777.2,618.4L773.3,626.4L778.1,628.8L783.0,631.3L788.8,637.3L794.7,643.2L800.0,647.8L805.2,652.3L810.6,657.4L815.9,662.4L819.3,668.5L822.6,674.5L826.0,680.6L832.1,683.9M728.1,624.5L730.5,633.0L732.8,641.5L735.2,650.0L737.5,658.5L739.9,667.0L742.3,675.4L744.7,680.3L747.1,685.2L747.6,692.6L748.2,699.9L748.7,707.2L749.9,713.8L751.2,720.5M751.2,720.5L755.0,727.4L762.9,726.9L770.8,726.4L778.8,725.8L786.7,725.2L794.6,724.6L802.6,724.0L810.5,723.3L814.3,727.6L814.0,718.3L819.7,717.8L825.5,717.3M751.2,720.5L743.6,721.3L735.9,722.2L728.2,723.0L720.5,723.8L712.8,724.5L705.1,725.3L697.4,726.0L699.9,730.0L702.3,734.1L700.7,743.3M677.0,629.4L677.1,638.9L677.2,648.5L677.3,658.0L677.4,667.5L677.4,677.0L677.5,686.5L677.6,696.1L677.7,705.6L678.7,714.8L679.8,724.0L680.9,733.2L682.1,742.5" fill="none" stroke="#a0a0a0" stroke-width="0.85" stroke-linejoin="round" stroke-linecap="round"/>
<g fill-opacity="0.88" stroke-width="1.6" stroke-linejoin="miter"><path d="M814.2,776.9l10.2,10.2l-10.2,10.2l-10.2,-10.2z" fill="#a8142b" stroke="#611624"/><path d="M888.6,428.7l10.2,10.2l-10.2,10.2l-10.2,-10.2z" fill="#a8142b" stroke="#611624"/><path d="M565.9,463.1l10.2,10.2l-10.2,10.2l-10.2,-10.2z" fill="#a8142b" stroke="#611624"/><path d="M48.2,473.5l10.2,10.2l-10.2,10.2l-10.2,-10.2z" fill="#a8142b" stroke="#611624"/><path d="M47.9,489.2l10.2,10.2l-10.2,10.2l-10.2,-10.2z" fill="#a8142b" stroke="#611624"/><path d="M68.0,525.5l10.2,10.2l-10.2,10.2l-10.2,-10.2z" fill="#a8142b" stroke="#611624"/><path d="M875.4,528.6l10.2,10.2l-10.2,10.2l-10.2,-10.2z" fill="#a8142b" stroke="#611624"/><path d="M906.3,539.5l10.2,10.2l-10.2,10.2l-10.2,-10.2z" fill="#a8142b" stroke="#611624"/><path d="M497.3,559.2l10.2,10.2l-10.2,10.2l-10.2,-10.2z" fill="#a8142b" stroke="#611624"/><path d="M74.4,561.8l10.2,10.2l-10.2,10.2l-10.2,-10.2z" fill="#a8142b" stroke="#611624"/><path d="M854.8,571.3l10.2,10.2l-10.2,10.2l-10.2,-10.2z" fill="#a8142b" stroke="#611624"/><path d="M837.4,572.3l10.2,10.2l-10.2,10.2l-10.2,-10.2z" fill="#a8142b" stroke="#611624"/><path d="M828.6,573.1l10.2,10.2l-10.2,10.2l-10.2,-10.2z" fill="#a8142b" stroke="#611624"/><path d="M860.8,575.4l10.2,10.2l-10.2,10.2l-10.2,-10.2z" fill="#a8142b" stroke="#611624"/><path d="M758.1,587.0l10.2,10.2l-10.2,10.2l-10.2,-10.2z" fill="#a8142b" stroke="#611624"/><path d="M702.2,588.3l10.2,10.2l-10.2,10.2l-10.2,-10.2z" fill="#a8142b" stroke="#611624"/><path d="M64.4,589.0l10.2,10.2l-10.2,10.2l-10.2,-10.2z" fill="#a8142b" stroke="#611624"/><path d="M820.5,596.1l10.2,10.2l-10.2,10.2l-10.2,-10.2z" fill="#a8142b" stroke="#611624"/><path d="M523.1,597.3l10.2,10.2l-10.2,10.2l-10.2,-10.2z" fill="#a8142b" stroke="#611624"/><path d="M558.8,599.1l10.2,10.2l-10.2,10.2l-10.2,-10.2z" fill="#a8142b" stroke="#611624"/><path d="M791.4,610.0l10.2,10.2l-10.2,10.2l-10.2,-10.2z" fill="#a8142b" stroke="#611624"/><path d="M733.7,612.4l10.2,10.2l-10.2,10.2l-10.2,-10.2z" fill="#a8142b" stroke="#611624"/><path d="M493.0,613.7l10.2,10.2l-10.2,10.2l-10.2,-10.2z" fill="#a8142b" stroke="#611624"/><path d="M640.2,618.2l10.2,10.2l-10.2,10.2l-10.2,-10.2z" fill="#a8142b" stroke="#611624"/><path d="M596.5,630.2l10.2,10.2l-10.2,10.2l-10.2,-10.2z" fill="#a8142b" stroke="#611624"/><path d="M804.8,642.2l10.2,10.2l-10.2,10.2l-10.2,-10.2z" fill="#a8142b" stroke="#611624"/><path d="M506.6,679.9l10.2,10.2l-10.2,10.2l-10.2,-10.2z" fill="#a8142b" stroke="#611624"/><path d="M822.6,717.2l10.2,10.2l-10.2,10.2l-10.2,-10.2z" fill="#a8142b" stroke="#611624"/><path d="M624.4,734.3l10.2,10.2l-10.2,10.2l-10.2,-10.2z" fill="#a8142b" stroke="#611624"/><path d="M647.8,745.2l10.2,10.2l-10.2,10.2l-10.2,-10.2z" fill="#a8142b" stroke="#611624"/><path d="M536.2,753.7l10.2,10.2l-10.2,10.2l-10.2,-10.2z" fill="#a8142b" stroke="#611624"/><path d="M835.0,759.4l10.2,10.2l-10.2,10.2l-10.2,-10.2z" fill="#a8142b" stroke="#611624"/><path d="M853.8,768.9l10.2,10.2l-10.2,10.2l-10.2,-10.2z" fill="#a8142b" stroke="#611624"/><path d="M824.7,773.2l10.2,10.2l-10.2,10.2l-10.2,-10.2z" fill="#a8142b" stroke="#611624"/><path d="M814.8,791.8l10.2,10.2l-10.2,10.2l-10.2,-10.2z" fill="#a8142b" stroke="#611624"/><path d="M473.8,839.5l10.2,10.2l-10.2,10.2l-10.2,-10.2z" fill="#a8142b" stroke="#611624"/><path d="M93.4,256.9l10.2,10.2l-10.2,10.2l-10.2,-10.2z" fill="#f3ae48" stroke="#8c6a34"/><path d="M73.8,304.1l10.2,10.2l-10.2,10.2l-10.2,-10.2z" fill="#f3ae48" stroke="#8c6a34"/><path d="M871.6,391.3l10.2,10.2l-10.2,10.2l-10.2,-10.2z" fill="#f3ae48" stroke="#8c6a34"/><path d="M824.9,404.5l10.2,10.2l-10.2,10.2l-10.2,-10.2z" fill="#f3ae48" stroke="#8c6a34"/><path d="M917.7,414.8l10.2,10.2l-10.2,10.2l-10.2,-10.2z" fill="#f3ae48" stroke="#8c6a34"/><path d="M937.5,419.9l10.2,10.2l-10.2,10.2l-10.2,-10.2z" fill="#f3ae48" stroke="#8c6a34"/><path d="M747.2,447.4l10.2,10.2l-10.2,10.2l-10.2,-10.2z" fill="#f3ae48" stroke="#8c6a34"/><path d="M896.2,447.4l10.2,10.2l-10.2,10.2l-10.2,-10.2z" fill="#f3ae48" stroke="#8c6a34"/><path d="M872.5,460.7l10.2,10.2l-10.2,10.2l-10.2,-10.2z" fill="#f3ae48" stroke="#8c6a34"/><path d="M815.4,467.2l10.2,10.2l-10.2,10.2l-10.2,-10.2z" fill="#f3ae48" stroke="#8c6a34"/><path d="M524.0,471.7l10.2,10.2l-10.2,10.2l-10.2,-10.2z" fill="#f3ae48" stroke="#8c6a34"/><path d="M882.3,483.3l10.2,10.2l-10.2,10.2l-10.2,-10.2z" fill="#f3ae48" stroke="#8c6a34"/><path d="M762.5,487.2l10.2,10.2l-10.2,10.2l-10.2,-10.2z" fill="#f3ae48" stroke="#8c6a34"/><path d="M25.9,487.9l10.2,10.2l-10.2,10.2l-10.2,-10.2z" fill="#f3ae48" stroke="#8c6a34"/><path d="M32.8,500.8l10.2,10.2l-10.2,10.2l-10.2,-10.2z" fill="#f3ae48" stroke="#8c6a34"/><path d="M549.5,524.6l10.2,10.2l-10.2,10.2l-10.2,-10.2z" fill="#f3ae48" stroke="#8c6a34"/><path d="M632.1,533.0l10.2,10.2l-10.2,10.2l-10.2,-10.2z" fill="#f3ae48" stroke="#8c6a34"/><path d="M716.4,535.2l10.2,10.2l-10.2,10.2l-10.2,-10.2z" fill="#f3ae48" stroke="#8c6a34"/><path d="M150.5,556.4l10.2,10.2l-10.2,10.2l-10.2,-10.2z" fill="#f3ae48" stroke="#8c6a34"/><path d="M81.8,597.0l10.2,10.2l-10.2,10.2l-10.2,-10.2z" fill="#f3ae48" stroke="#8c6a34"/><path d="M97.6,603.2l10.2,10.2l-10.2,10.2l-10.2,-10.2z" fill="#f3ae48" stroke="#8c6a34"/><path d="M821.5,626.5l10.2,10.2l-10.2,10.2l-10.2,-10.2z" fill="#f3ae48" stroke="#8c6a34"/><path d="M755.6,642.0l10.2,10.2l-10.2,10.2l-10.2,-10.2z" fill="#f3ae48" stroke="#8c6a34"/><path d="M848.3,652.4l10.2,10.2l-10.2,10.2l-10.2,-10.2z" fill="#f3ae48" stroke="#8c6a34"/><path d="M708.0,652.9l10.2,10.2l-10.2,10.2l-10.2,-10.2z" fill="#f3ae48" stroke="#8c6a34"/><path d="M217.5,669.6l10.2,10.2l-10.2,10.2l-10.2,-10.2z" fill="#f3ae48" stroke="#8c6a34"/><path d="M642.0,688.1l10.2,10.2l-10.2,10.2l-10.2,-10.2z" fill="#f3ae48" stroke="#8c6a34"/><path d="M307.2,693.0l10.2,10.2l-10.2,10.2l-10.2,-10.2z" fill="#f3ae48" stroke="#8c6a34"/><path d="M486.4,741.0l10.2,10.2l-10.2,10.2l-10.2,-10.2z" fill="#f3ae48" stroke="#8c6a34"/><path d="M840.1,742.1l10.2,10.2l-10.2,10.2l-10.2,-10.2z" fill="#f3ae48" stroke="#8c6a34"/><path d="M470.1,761.3l10.2,10.2l-10.2,10.2l-10.2,-10.2z" fill="#f3ae48" stroke="#8c6a34"/><path d="M830.0,808.6l10.2,10.2l-10.2,10.2l-10.2,-10.2z" fill="#f3ae48" stroke="#8c6a34"/><path d="M871.4,821.6l10.2,10.2l-10.2,10.2l-10.2,-10.2z" fill="#f3ae48" stroke="#8c6a34"/><path d="M172.1,275.9l10.2,10.2l-10.2,10.2l-10.2,-10.2z" fill="#6cba6d" stroke="#437a49"/><path d="M171.2,376.4l10.2,10.2l-10.2,10.2l-10.2,-10.2z" fill="#6cba6d" stroke="#437a49"/><path d="M569.8,380.0l10.2,10.2l-10.2,10.2l-10.2,-10.2z" fill="#6cba6d" stroke="#437a49"/><path d="M915.2,391.5l10.2,10.2l-10.2,10.2l-10.2,-10.2z" fill="#6cba6d" stroke="#437a49"/><path d="M951.3,392.3l10.2,10.2l-10.2,10.2l-10.2,-10.2z" fill="#6cba6d" stroke="#437a49"/><path d="M845.7,393.8l10.2,10.2l-10.2,10.2l-10.2,-10.2z" fill="#6cba6d" stroke="#437a49"/><path d="M960.8,401.0l10.2,10.2l-10.2,10.2l-10.2,-10.2z" fill="#6cba6d" stroke="#437a49"/><path d="M939.0,408.1l10.2,10.2l-10.2,10.2l-10.2,-10.2z" fill="#6cba6d" stroke="#437a49"/><path d="M705.5,420.1l10.2,10.2l-10.2,10.2l-10.2,-10.2z" fill="#6cba6d" stroke="#437a49"/><path d="M665.9,422.0l10.2,10.2l-10.2,10.2l-10.2,-10.2z" fill="#6cba6d" stroke="#437a49"/><path d="M639.6,423.3l10.2,10.2l-10.2,10.2l-10.2,-10.2z" fill="#6cba6d" stroke="#437a49"/><path d="M933.5,424.2l10.2,10.2l-10.2,10.2l-10.2,-10.2z" fill="#6cba6d" stroke="#437a49"/><path d="M753.7,429.7l10.2,10.2l-10.2,10.2l-10.2,-10.2z" fill="#6cba6d" stroke="#437a49"/><path d="M921.8,438.8l10.2,10.2l-10.2,10.2l-10.2,-10.2z" fill="#6cba6d" stroke="#437a49"/><path d="M780.8,446.4l10.2,10.2l-10.2,10.2l-10.2,-10.2z" fill="#6cba6d" stroke="#437a49"/><path d="M234.2,448.4l10.2,10.2l-10.2,10.2l-10.2,-10.2z" fill="#6cba6d" stroke="#437a49"/><path d="M673.3,449.9l10.2,10.2l-10.2,10.2l-10.2,-10.2z" fill="#6cba6d" stroke="#437a49"/><path d="M785.4,456.1l10.2,10.2l-10.2,10.2l-10.2,-10.2z" fill="#6cba6d" stroke="#437a49"/><path d="M905.0,461.8l10.2,10.2l-10.2,10.2l-10.2,-10.2z" fill="#6cba6d" stroke="#437a49"/><path d="M235.8,473.3l10.2,10.2l-10.2,10.2l-10.2,-10.2z" fill="#6cba6d" stroke="#437a49"/><path d="M876.3,494.3l10.2,10.2l-10.2,10.2l-10.2,-10.2z" fill="#6cba6d" stroke="#437a49"/><path d="M741.3,494.9l10.2,10.2l-10.2,10.2l-10.2,-10.2z" fill="#6cba6d" stroke="#437a49"/><path d="M705.0,498.9l10.2,10.2l-10.2,10.2l-10.2,-10.2z" fill="#6cba6d" stroke="#437a49"/><path d="M356.4,501.1l10.2,10.2l-10.2,10.2l-10.2,-10.2z" fill="#6cba6d" stroke="#437a49"/><path d="M737.4,511.8l10.2,10.2l-10.2,10.2l-10.2,-10.2z" fill="#6cba6d" stroke="#437a49"/><path d="M357.5,523.7l10.2,10.2l-10.2,10.2l-10.2,-10.2z" fill="#6cba6d" stroke="#437a49"/><path d="M313.0,611.8l10.2,10.2l-10.2,10.2l-10.2,-10.2z" fill="#6cba6d" stroke="#437a49"/><path d="M95.6,633.7l10.2,10.2l-10.2,10.2l-10.2,-10.2z" fill="#6cba6d" stroke="#437a49"/><path d="M200.3,636.2l10.2,10.2l-10.2,10.2l-10.2,-10.2z" fill="#6cba6d" stroke="#437a49"/><path d="M963.5,386.6l10.2,10.2l-10.2,10.2l-10.2,-10.2z" fill="#6cba6d" stroke="#437a49"/><path d="M233.7,459.7l10.2,10.2l-10.2,10.2l-10.2,-10.2z" fill="#6cba6d" stroke="#437a49"/></g>
<g><circle cx="814.2" cy="787.1" r="4.7" fill="#fff" fill-opacity="1" stroke="#611624" stroke-width="0.5"/><circle cx="497.3" cy="569.4" r="4.7" fill="#fff" fill-opacity="1" stroke="#611624" stroke-width="0.5"/><circle cx="702.2" cy="598.5" r="4.7" fill="#fff" fill-opacity="1" stroke="#611624" stroke-width="0.5"/><circle cx="506.6" cy="690.1" r="4.7" fill="#fff" fill-opacity="1" stroke="#611624" stroke-width="0.5"/><circle cx="647.8" cy="755.4" r="4.7" fill="#fff" fill-opacity="1" stroke="#611624" stroke-width="0.5"/><circle cx="93.4" cy="267.1" r="4.7" fill="#fff" fill-opacity="1" stroke="#8c6a34" stroke-width="0.5"/><circle cx="81.8" cy="607.2" r="4.7" fill="#fff" fill-opacity="1" stroke="#8c6a34" stroke-width="0.5"/><circle cx="921.8" cy="449.0" r="4.7" fill="#fff" fill-opacity="1" stroke="#437a49" stroke-width="0.5"/><circle cx="780.8" cy="456.6" r="4.7" fill="#fff" fill-opacity="1" stroke="#437a49" stroke-width="0.5"/><circle cx="673.3" cy="460.1" r="4.7" fill="#fff" fill-opacity="1" stroke="#437a49" stroke-width="0.5"/><rect x="872.5" y="500.7" width="7.6" height="7.6" fill="#fff" fill-opacity="1" stroke="#437a49" stroke-width="0.8"/><circle cx="356.4" cy="511.3" r="4.7" fill="#fff" fill-opacity="1" stroke="#437a49" stroke-width="0.5"/></g>
<g font-family="Liberation Sans, sans-serif" font-size="20" text-anchor="middle" fill="#8b8b8b" stroke="#8b8b8b" stroke-width="4.5" stroke-linejoin="round"><text x="121.43" y="295.2" letter-spacing="0.76">Seattle</text><text x="136.13" y="590.3" letter-spacing="0.77">Los Angeles</text><text x="387.01" y="538.75" letter-spacing="0.92">Denver</text><text x="527.17" y="552.4" letter-spacing="0.6">Wichita</text><text x="530.82" y="673.9" letter-spacing="0.55">Dallas</text><text x="638.77" y="487.95" letter-spacing="0.65">Chicago</text><text x="740.96" y="582.25" letter-spacing="0.69">Nashville</text><text x="704.33" y="738.2" letter-spacing="0.81">New Orleans</text><text x="840.75" y="771.3" letter-spacing="0.4">Tampa</text><text x="823.85" y="440.45" letter-spacing="0.89">Cleveland</text><text x="963.95" y="475.7" letter-spacing="0.9">New York</text><text x="860.9" y="530.9" letter-spacing="0.5" font-size="20" font-weight="bold">D.C.</text><path d="M841.6,534.9H879.6" stroke-width="5.6" stroke-linecap="round"/></g>
<g font-family="Liberation Sans, sans-serif" font-size="20" text-anchor="middle" fill="#fff" stroke="none" stroke-width="0" stroke-linejoin="round"><text x="121.43" y="295.2" letter-spacing="0.76">Seattle</text><text x="136.13" y="590.3" letter-spacing="0.77">Los Angeles</text><text x="387.01" y="538.75" letter-spacing="0.92">Denver</text><text x="527.17" y="552.4" letter-spacing="0.6">Wichita</text><text x="530.82" y="673.9" letter-spacing="0.55">Dallas</text><text x="638.77" y="487.95" letter-spacing="0.65">Chicago</text><text x="740.96" y="582.25" letter-spacing="0.69">Nashville</text><text x="704.33" y="738.2" letter-spacing="0.81">New Orleans</text><text x="840.75" y="771.3" letter-spacing="0.4">Tampa</text><text x="823.85" y="440.45" letter-spacing="0.89">Cleveland</text><text x="963.95" y="475.7" letter-spacing="0.9">New York</text><text x="860.9" y="530.9" letter-spacing="0.5" font-size="20" font-weight="bold">D.C.</text><path d="M841.6,534.9H879.6" stroke="#fff" stroke-width="2" stroke-linecap="round"/></g>
</svg>
</body></html>
